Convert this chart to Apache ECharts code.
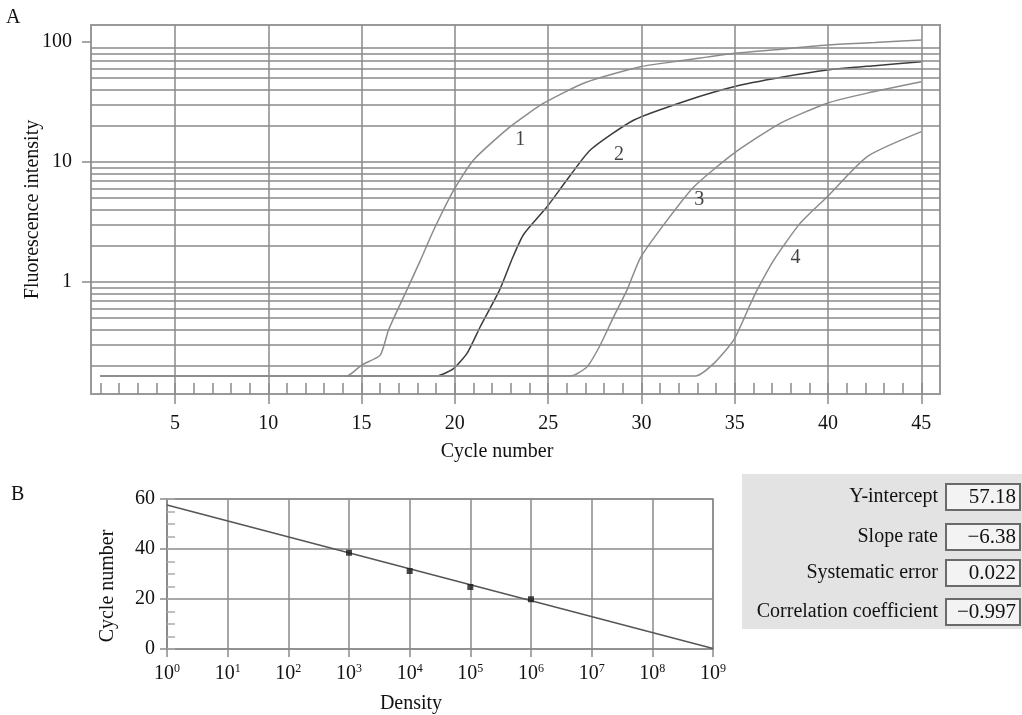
<!DOCTYPE html>
<html>
<head>
<meta charset="utf-8">
<script src="https://cdn.jsdelivr.net/npm/echarts@6/dist/echarts.min.js"></script>
<style>
  html, body { margin: 0; padding: 0; background: #fff; }
  #chart { width: 1022px; height: 715px; }
</style>
</head>
<body>
<div id="chart"></div>
<script>
// ---- panel A : amplification curves ----
const cycleTicks = [5, 10, 15, 20, 25, 30, 35, 40, 45];
const cycleMinorTicks = [1, 2, 3, 4, 5, 6, 7, 8, 9, 10, 11, 12, 13, 14, 15, 16, 17, 18, 19, 20, 21, 22, 23,
  24, 25, 26, 27, 28, 29, 30, 31, 32, 33, 34, 35, 36, 37, 38, 39, 40, 41, 42, 43, 44, 45];
const intensityTicks = [1, 10, 100];
const intensityGrid = [0.2, 0.3, 0.4, 0.5, 0.6, 0.7, 0.8, 0.9, 1,
  2, 3, 4, 5, 6, 7, 8, 9, 10, 20, 30, 40, 50, 60, 70, 80, 90];

const curve1Cycle = [1, 14.2, 15, 16, 16.45, 17.43, 18.14, 18.86, 19.93, 21, 22.97, 24.76, 27, 29.95, 32.5, 34.9, 37.5, 39.96, 42.5, 45];
const curve1Value = [0.165, 0.165, 0.203, 0.246, 0.4, 0.86, 1.5, 2.7, 5.8, 10.4, 19.7, 30.9, 46, 62.3, 71, 80.2, 87, 94.5, 99, 104];

const curve2Cycle = [14.2, 19.04, 19.93, 20.65, 21.36, 22.4, 23.1, 23.69, 24.94, 26, 27.26, 29.6, 32.45, 34.95, 37.5, 39.96, 42.5, 45];
const curve2Value = [0.165, 0.165, 0.19, 0.254, 0.424, 0.86, 1.6, 2.5, 4.24, 7.07, 12.6, 22.4, 32.6, 42.4, 50.8, 58.4, 63.5, 68.5];

const curve3Cycle = [1, 26.2, 27.09, 27.8, 28.5, 29.23, 29.95, 31.38, 32.8, 34.95, 37.46, 39.96, 42.1, 45];
const curve3Value = [0.165, 0.165, 0.197, 0.3, 0.51, 0.86, 1.6, 3.28, 6.2, 11.8, 21.1, 30.9, 37.5, 46.6];

const curve4Cycle = [1, 32.9, 33.88, 34.95, 35.85, 36.2, 37.1, 38.5, 39.96, 42.1, 45];
const curve4Value = [0.165, 0.165, 0.21, 0.33, 0.66, 0.86, 1.53, 3.08, 5.14, 11.1, 17.9];

const curveNames = ['1', '2', '3', '4'];
const curveColors = ['#8c8c8c', '#3c3c3c', '#8c8c8c', '#8c8c8c'];
const curveLabelCycle = [23.5, 28.8, 33.1, 38.26];
const curveLabelValue = [15.2, 11.4, 4.82, 1.58];

// ---- panel B : standard curve ----
const densityValues = [1e3, 1e4, 1e5, 1e6];
const densityCycles = [38.5, 31.2, 24.8, 19.9];
const fitDensity = [1, 1e9];
const fitCycle = [57.6, 0.2];

// ---- parameter table ----
const statNames = ['Y-intercept', 'Slope rate', 'Systematic error', 'Correlation coefficient'];
const statValues = ['57.18', '\u22126.38', '0.022', '\u22120.997'];

const serif = '"Liberation Serif", "DejaVu Serif", serif';
const gridColor = '#8a8a8a';

const chart = echarts.init(document.getElementById('chart'), null, { renderer: 'canvas' });

function zip(xs, ys) {
  return xs.map((x, i) => [x, ys[i]]);
}

const curveSeries = [
  [curve1Cycle, curve1Value],
  [curve2Cycle, curve2Value],
  [curve3Cycle, curve3Value],
  [curve4Cycle, curve4Value]
].map((c, i) => ({
  type: 'line',
  name: curveNames[i],
  xAxisIndex: 0,
  yAxisIndex: 0,
  data: zip(c[0], c[1]),
  showSymbol: false,
  smooth: 0.2,
  z: 4,
  lineStyle: { color: curveColors[i], width: 1.5 },
  silent: true
}));

const rowCenters = [497, 537, 573, 612];
const tableGraphic = [{
  type: 'rect',
  shape: { x: 742, y: 474, width: 280, height: 155 },
  style: { fill: '#e3e3e3' }
}];
statNames.forEach((name, i) => {
  const cy = rowCenters[i];
  tableGraphic.push({
    type: 'text', x: 938, y: cy,
    style: { text: name, font: '20px ' + serif, fill: '#111', align: 'right', verticalAlign: 'middle' }
  });
  tableGraphic.push({
    type: 'rect',
    shape: { x: 946, y: cy - 13, width: 74, height: 26 },
    style: { fill: '#f3f3f3', stroke: '#6a6a6a', lineWidth: 2 }
  });
  tableGraphic.push({
    type: 'text', x: 1016, y: cy,
    style: { text: statValues[i], font: '21px ' + serif, fill: '#111', align: 'right', verticalAlign: 'middle' }
  });
});

const option = {
  backgroundColor: '#fff',
  animation: false,
  textStyle: { fontFamily: serif },
  grid: [
    { left: 91, top: 25, width: 849, height: 369, show: true, borderColor: '#999', borderWidth: 2 },
    { left: 167, top: 499, width: 546, height: 151, show: true, borderColor: gridColor, borderWidth: 1.5 }
  ],
  xAxis: [
    {
      type: 'value', gridIndex: 0, min: 0.5, max: 46,
      name: 'Cycle number', nameLocation: 'middle', nameGap: 48,
      nameTextStyle: { fontSize: 20, color: '#111', fontFamily: serif, padding: [0, 37, 0, 0] },
      axisLine: { show: false },
      axisTick: { show: true, customValues: cycleTicks, length: 10, lineStyle: { color: gridColor, width: 1.5 } },
      axisLabel: { customValues: cycleTicks, fontSize: 20, color: '#111', fontFamily: serif, margin: 20 },
      splitLine: { show: false }
    },
    {
      type: 'value', gridIndex: 0, min: 0.5, max: 46, position: 'bottom',
      axisLine: { show: false },
      axisTick: { show: true, customValues: cycleMinorTicks, inside: true, length: 11, lineStyle: { color: gridColor, width: 1.5 } },
      axisLabel: { show: false },
      splitLine: { show: false }
    },
    {
      type: 'log', logBase: 10, gridIndex: 1, min: 1, max: 1e9,
      name: 'Density', nameLocation: 'middle', nameGap: 45,
      nameTextStyle: { fontSize: 20, color: '#111', fontFamily: serif, padding: [0, 58, 0, 0] },
      axisLine: { show: false },
      axisTick: { show: true, length: 8, lineStyle: { color: gridColor, width: 1.5 } },
      axisLabel: {
        margin: 14,
        formatter: v => '{b|10}{s|' + Math.round(Math.log10(v)) + '}',
        rich: {
          b: { fontSize: 20, fontFamily: serif, color: '#111', lineHeight: 22 },
          s: { fontSize: 12, fontFamily: serif, color: '#111', lineHeight: 12, verticalAlign: 'top' }
        }
      },
      splitLine: { show: true, lineStyle: { color: gridColor, width: 1.5 } }
    }
  ],
  yAxis: [
    {
      type: 'log', logBase: 10, gridIndex: 0, min: 0.1166, max: 138.6,
      name: 'Fluorescence intensity', nameLocation: 'middle', nameGap: 48, nameMoveOverlap: false,
      nameTextStyle: { fontSize: 20, color: '#111', fontFamily: serif },
      axisLine: { show: false },
      axisTick: { show: true, customValues: intensityTicks, length: 9, lineStyle: { color: gridColor, width: 1.5 } },
      axisLabel: { customValues: intensityTicks, fontSize: 20, color: '#111', fontFamily: serif, margin: 19 },
      splitLine: { show: false }
    },
    {
      type: 'value', gridIndex: 1, min: 0, max: 60, interval: 20, position: 'left',
      name: 'Cycle number', nameLocation: 'middle', nameGap: 49,
      nameTextStyle: { fontSize: 20, color: '#111', fontFamily: serif, padding: [0, 24, 0, 0] },
      axisLine: { show: true, lineStyle: { color: gridColor, width: 1.5 } },
      axisTick: { show: true, length: 7, lineStyle: { color: gridColor, width: 1.5 } },
      axisLabel: { fontSize: 20, color: '#111', fontFamily: serif, margin: 12 },
      splitLine: { show: true, lineStyle: { color: gridColor, width: 1.5 } }
    },
    {
      type: 'value', gridIndex: 1, min: 0, max: 60, interval: 5, position: 'left', offset: 0,
      axisLine: { show: false },
      axisTick: { show: true, inside: true, length: 8, lineStyle: { color: '#aaa', width: 1.5 } },
      axisLabel: { show: false },
      splitLine: { show: false }
    }
  ],
  series: [
    {
      type: 'line', xAxisIndex: 0, yAxisIndex: 0, data: [], silent: true, z: 2,
      markLine: {
        silent: true, symbol: 'none', animation: false,
        label: { show: false },
        lineStyle: { color: gridColor, width: 1.5, type: 'solid' },
        data: intensityGrid.map(v => ({ yAxis: v })).concat(cycleTicks.map(v => ({ xAxis: v })))
      }
    },
    ...curveSeries,
    {
      type: 'scatter', xAxisIndex: 0, yAxisIndex: 0, silent: true, z: 6,
      symbolSize: 1,
      itemStyle: { color: 'rgba(0,0,0,0)' },
      data: curveLabelCycle.map((c, i) => [c, curveLabelValue[i], curveNames[i]]),
      label: {
        show: true, position: 'inside', formatter: p => p.data[2],
        fontSize: 20, color: '#111', fontFamily: serif
      }
    },
    {
      type: 'line', xAxisIndex: 2, yAxisIndex: 1, silent: true, z: 4,
      data: zip(fitDensity, fitCycle), showSymbol: false,
      lineStyle: { color: '#555', width: 1.5 }
    },
    {
      type: 'scatter', xAxisIndex: 2, yAxisIndex: 1, silent: true, z: 5,
      data: zip(densityValues, densityCycles),
      symbol: 'rect', symbolSize: 6,
      itemStyle: { color: '#1a1a1a' }
    }
  ],
  graphic: [
    { type: 'text', x: 6, y: 8, style: { text: 'A', font: '20px ' + serif, fill: '#111' } },
    { type: 'text', x: 11, y: 485, style: { text: 'B', font: '20px ' + serif, fill: '#111' } },
    ...tableGraphic
  ]
};

chart.setOption(option);
</script>
</body>
</html>
